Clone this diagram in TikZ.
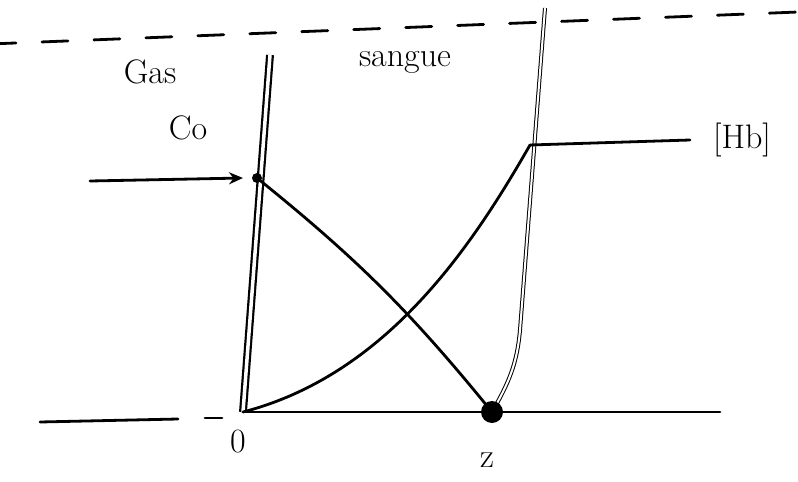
\documentclass[tikz,border=0pt]{standalone}
\usepackage{tikz}
\usetikzlibrary{positioning,arrows.meta,calc}
\begin{document}
\begin{tikzpicture}[x=1pt,y=-1pt,
  linha/.style={line width=2.8pt, line cap=round},
  fina/.style={line width=1pt},
  rotulo/.style={font=\fontsize{34}{38}\selectfont, inner sep=0pt}]
\useasboundingbox (0,0) rectangle (798,482);
% limite superior tracejado
\coordinate (topoL) at (-10,44);
\coordinate (topoR) at (798,12);
\draw[linha, dash pattern=on 26pt off 26pt] (topoL) -- (topoR);

% eixo horizontal
\coordinate (eixoL) at (40,422);
\coordinate (eixoA) at (178,419);
\coordinate (eixoB) at (205,418);
\coordinate (eixoC) at (222,418);
\coordinate (origem) at (243,412);
\coordinate (eixoR) at (720,412);
\draw[linha] (eixoL) -- (eixoA);
\draw[linha] (eixoB) -- (eixoC);
\draw[linha] (origem) -- (eixoR);

% membrana
\coordinate (membTop) at (270,55);
\draw[line width=2.2pt, double, double distance=3.5pt] (membTop) -- (origem);

% limite do sangue
\coordinate (limTop) at (545,8);
\coordinate (limMid) at (520,330);
\coordinate (blob) at (492,412);
\draw[fina, double, double distance=2pt] (limTop) -- (limMid) to[out=265,in=60] (blob);

% fluxo de entrada
\coordinate (entrada) at (90,181);
\coordinate (c0) at (257,178);
\draw[linha, -{Stealth[length=14pt,width=12pt]}] (entrada) -- ($(c0)+(-14,0)$);
\fill (c0) circle (5pt);

% perfis
\coordinate (hbPt) at (530,145);
\coordinate (hbEnd) at (690,140);
\draw[linha] (c0) to[bend left=6] (blob);
\draw[linha] (origem) .. controls (385,375) and (470,250) .. (hbPt);
\draw[linha] (hbPt) -- (hbEnd);
\fill (blob) circle (11pt);

% rotulos
\node[rotulo] (gas) at (150,72) {Gas};
\node[rotulo] (conc) at (188,128) {Co};
\node[rotulo] (sangue) at (405,62) {sangue};
\node[rotulo] (hb) at (742,140) {[Hb]};
\node[rotulo] (zero) at (238,442) {0};
\node[rotulo] (zeta) at (487,460) {z};
\end{tikzpicture}
\end{document}
